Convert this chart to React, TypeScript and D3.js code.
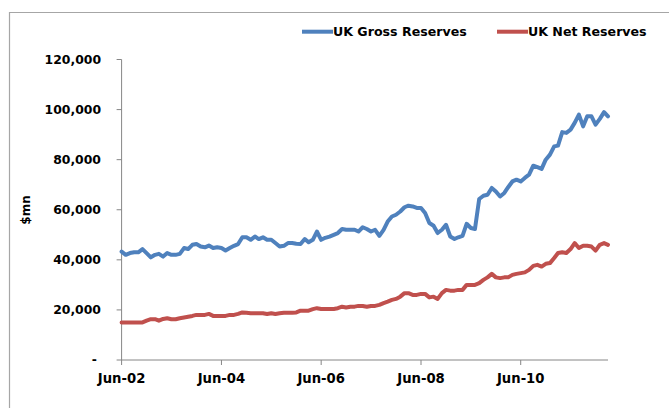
import React from "react";
import * as d3 from "d3";

const grossReserves = [
  43.3, 42, 42.7, 43, 43, 44.3, 42.7, 41, 42, 42.4, 41.3, 42.7, 42, 42, 42.4, 44.7, 44.3, 46, 46.3, 45.3,
  45, 45.7, 44.7, 45, 44.7, 43.7, 44.7, 45.6, 46.3, 49, 49, 48, 49.3, 48.3, 49, 48, 48, 46.7, 45.3, 45.6,
  46.7, 46.7, 46.4, 46.3, 48.3, 47, 48, 51.3, 48, 48.8, 49.3, 50, 50.7, 52.3, 52, 52, 52, 51.3, 53, 52.3,
  51.3, 52, 49.6, 52, 55.3, 57.3, 58, 59.3, 61, 61.6, 61.3, 60.7, 60.7, 58.7, 54.7, 53.6, 50.7, 52, 54, 49.3,
  48.3, 49, 49.6, 54.4, 52.7, 52.3, 64.3, 65.6, 66, 68.7, 67.3, 65.3, 66.7, 69, 71.3, 72, 71.3, 72.7, 74, 77.6,
  77, 76.3, 80, 82, 85.3, 85.6, 91, 90.7, 92, 94.7, 98, 93.3, 97.3, 97.3, 94, 96.3, 99, 97.3,
].map((v) => v * 1000);

const netReserves = [
  15, 15, 15, 15, 15, 15, 15.7, 16.3, 16.3, 15.7, 16.4, 16.7, 16.3, 16.3, 16.7, 17, 17.3, 17.6, 18, 18,
  18, 18.4, 17.6, 17.6, 17.6, 17.6, 18, 18, 18.4, 19, 18.9, 18.7, 18.7, 18.7, 18.7, 18.4, 18.7, 18.4, 18.7, 18.9,
  18.9, 18.9, 19, 19.7, 19.7, 19.7, 20.3, 20.7, 20.4, 20.4, 20.4, 20.4, 20.7, 21.3, 21, 21.3, 21.3, 21.6, 21.6, 21.3,
  21.6, 21.6, 22, 22.7, 23.3, 24, 24.4, 25.3, 26.7, 26.7, 26, 26, 26.4, 26.4, 25, 25.3, 24.4, 26.7, 28, 27.7,
  27.7, 28, 28, 30, 30, 30, 30.7, 32, 33, 34.4, 33, 32.7, 33, 33, 34, 34.4, 34.7, 35, 36, 37.6,
  38, 37.3, 38.4, 38.7, 40.7, 42.7, 43, 42.7, 44.3, 46.7, 44.7, 45.6, 45.6, 45.3, 43.7, 46, 46.7, 46,
].map((v) => v * 1000);

const startMonth = new Date(2002, 5, 1);
const months = grossReserves.map((_, i) => d3.timeMonth.offset(startMonth, i));

const xTickDates = [new Date(2002, 5, 1), new Date(2004, 5, 1), new Date(2006, 5, 1), new Date(2008, 5, 1), new Date(2010, 5, 1)];
const xTickLabels = ["Jun-02", "Jun-04", "Jun-06", "Jun-08", "Jun-10"];
const yTicks = [0, 20000, 40000, 60000, 80000, 100000, 120000];
const seriesNames = ["UK Gross Reserves", "UK Net Reserves"];
const seriesColors = ["#4F81BD", "#C0504D"];

const W = 669;
const H = 408;
const left = 121.6;
const right = 608;
const top = 59.5;
const bottom = 360;
const font = "Tahoma, 'DejaVu Sans', Verdana, sans-serif";
const axisColor = "#868686";

export default function App() {
  const x = d3.scaleTime().domain([months[0], months[months.length - 1]]).range([left, right]);
  const y = d3.scaleLinear().domain([0, 120000]).range([bottom, top]);
  const line = d3
    .line<number>()
    .x((_, i) => x(months[i]))
    .y((d) => y(d));
  const fmt = d3.format(",");
  const series = [grossReserves, netReserves];

  return (
    <svg width={W} height={H} style={{ position: "absolute", left: 0, top: 0, background: "#fff" }}>
      <rect x={0} y={0} width={W} height={H} fill="#fff" />
      <path d={`M9.5,${H + 2}V12.5H${W + 2}`} fill="none" stroke="#a6a6a6" strokeWidth={1.2} />

      {/* y axis */}
      <line x1={left} x2={left} y1={top} y2={bottom} stroke={axisColor} strokeWidth={1} />
      {yTicks.map((t) => (
        <g key={t}>
          <line x1={left - 5} x2={left} y1={y(t)} y2={y(t)} stroke={axisColor} strokeWidth={1} />
          <text
            x={t === 0 ? 97 : 101}
            y={y(t)}
            dy="0.35em"
            textAnchor="end"
            fontFamily={font}
            fontWeight="bold"
            fontSize={12.4}
            fill="#000"
          >
            {t === 0 ? "-" : fmt(t)}
          </text>
        </g>
      ))}
      <text
        transform={`translate(29.5,210) rotate(-90)`}
        textAnchor="middle"
        fontFamily={font}
        fontWeight="bold"
        fontSize={12}
        fill="#000"
      >
        $mn
      </text>

      {/* x axis */}
      <line x1={left} x2={right} y1={bottom} y2={bottom} stroke={axisColor} strokeWidth={1} />
      {xTickDates.map((d, i) => (
        <g key={i}>
          <line x1={x(d)} x2={x(d)} y1={bottom} y2={bottom + 5} stroke={axisColor} strokeWidth={1} />
          <text
            x={x(d)}
            y={383}
            textAnchor="middle"
            fontFamily={font}
            fontWeight="bold"
            fontSize={13.2}
            fill="#000"
          >
            {xTickLabels[i]}
          </text>
        </g>
      ))}

      {/* series */}
      {series.map((s, i) => (
        <path
          key={i}
          d={line(s) || ""}
          fill="none"
          stroke={seriesColors[i]}
          strokeWidth={4}
          strokeLinejoin="round"
          strokeLinecap="round"
        />
      ))}

      {/* legend */}
      {seriesNames.map((name, i) => {
        const lx = i === 0 ? 302 : 497;
        return (
          <g key={name}>
            <line x1={lx} x2={lx + 31} y1={31.7} y2={31.7} stroke={seriesColors[i]} strokeWidth={4} />
            <text
              x={lx + 31}
              y={31.7}
              dy="0.35em"
              fontFamily={font}
              fontWeight="bold"
              fontSize={12.6}
              fill="#000"
            >
              {name}
            </text>
          </g>
        );
      })}
    </svg>
  );
}
